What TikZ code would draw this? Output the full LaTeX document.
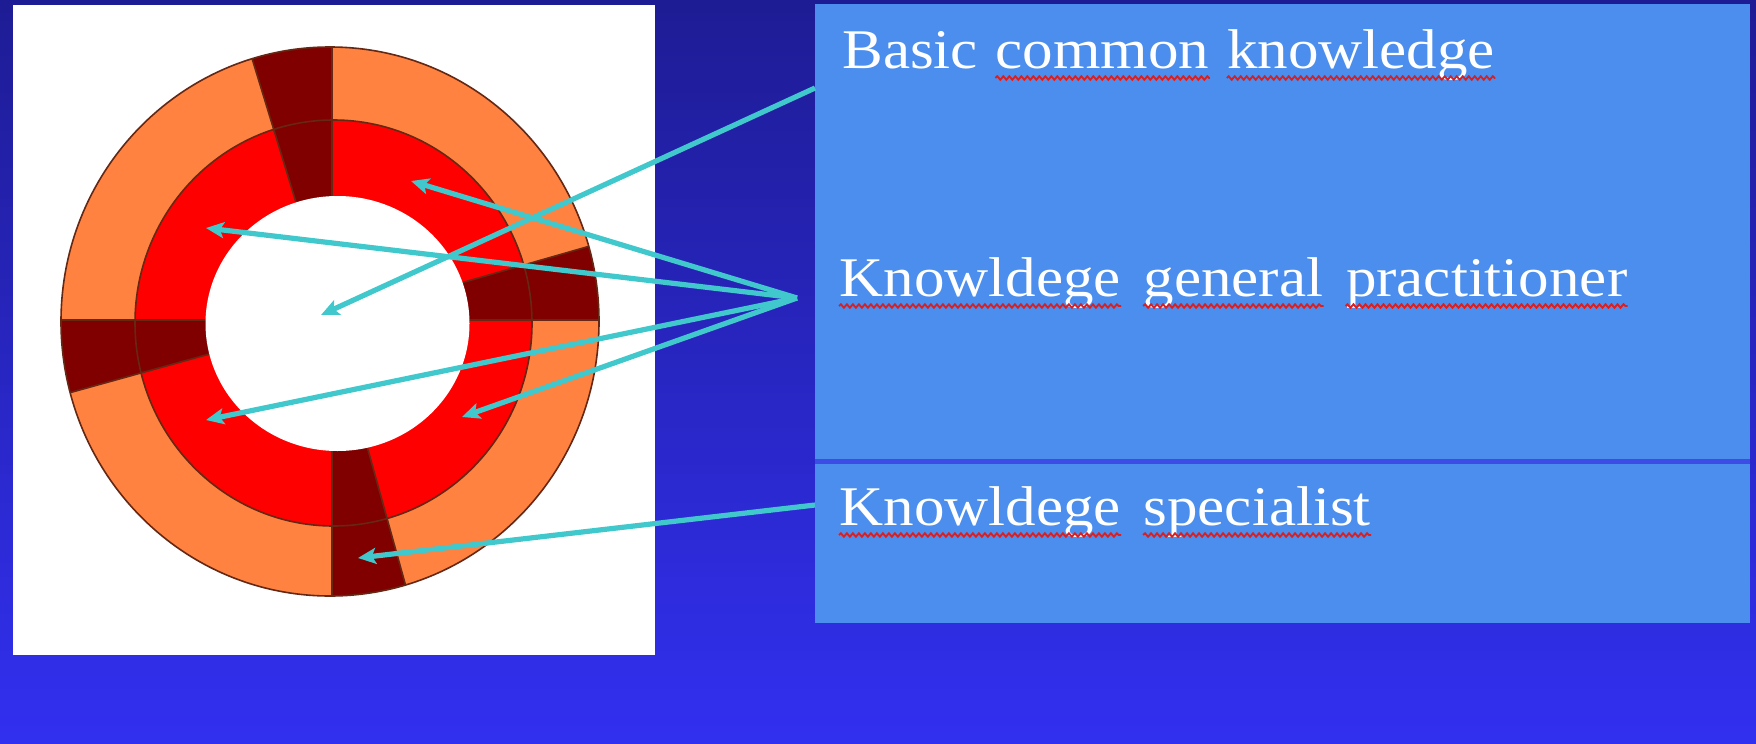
\documentclass[tikz,border=0pt]{standalone}
\usepackage{fontspec}
\newfontfamily\boxfont[FakeStretch=1.09]{Liberation Serif}
\usetikzlibrary{arrows.meta,decorations.pathmorphing,calc}
\definecolor{bgtop}{RGB}{30,28,148}
\definecolor{bgmid}{RGB}{44,42,215}
\definecolor{bgbot}{RGB}{50,48,240}
\definecolor{boxblue}{RGB}{75,142,237}
\definecolor{divider}{RGB}{60,76,228}
\definecolor{teal1}{RGB}{64,200,204}
\definecolor{orange1}{RGB}{255,130,64}
\definecolor{red1}{RGB}{255,0,0}
\definecolor{dark1}{RGB}{128,0,0}
\definecolor{ringline}{RGB}{100,40,20}
\definecolor{squig}{RGB}{220,30,30}
\begin{document}
\begin{tikzpicture}[x=0.5pt,y=-0.5pt,
  txt/.style={font=\boxfont\fontsize{28}{32}\selectfont, text=white, inner sep=0pt, anchor=base west},
  wavy/.style={draw=squig, line width=0.9pt, decorate, decoration={snake, segment length=3pt, amplitude=0.9pt}},
  conn/.style={draw=teal1, line width=2.6pt, -{Stealth[length=9pt,width=8pt,inset=2pt]}},
  ring/.style={draw=ringline, line width=0.8pt}]

\useasboundingbox (0,0) rectangle (1756,744);
\shade[top color=bgtop, middle color=bgmid, bottom color=bgbot] (0,0) rectangle (1756,744);
\fill[white] (13,5) rectangle (655,655);

% rings
\coordinate (C) at (332,320);
\fill[orange1] (330,321.5) ellipse [x radius=269, y radius=274.5];
\fill[red1] (333.5,323) ellipse [x radius=198.5, y radius=203];
\begin{scope}
  \clip (330,321.5) ellipse [x radius=269, y radius=274.5];
  \foreach \a/\b in {0/16, 90/107, 180/195.5, 270/285.5}
    \filldraw[fill=dark1, ring] (C) -- ($(C)+(-\a:600)$) -- ($(C)+(-\b:600)$) -- cycle;
\end{scope}
\draw[ring] (333.5,323) ellipse [x radius=198.5, y radius=203];
\fill[white] (337.5,323.5) ellipse [x radius=132, y radius=127.5];
\draw[ring] (330,321.5) ellipse [x radius=269, y radius=274.5];

% boxes
\fill[boxblue] (815,4) rectangle (1750,623);
\fill[divider] (815,459) rectangle (1750,464);

% texts
\node[txt] (t1a) at (842,68) {Basic};
\node[txt] (t1b) at ($(t1a.base east)+(17,0)$) {common};
\node[txt] (t1c) at ($(t1b.base east)+(17,0)$) {knowledge};
\node[txt] (t2a) at (839,296) {Knowldege};
\node[txt] (t2b) at ($(t2a.base east)+(22,0)$) {general};
\node[txt] (t2c) at ($(t2b.base east)+(22,0)$) {practitioner};
\node[txt] (t3a) at (839,525) {Knowldege};
\node[txt] (t3b) at ($(t3a.base east)+(22,0)$) {specialist};

\foreach \w in {t1b,t1c,t2a,t2b,t2c,t3a,t3b}
  \draw[wavy] ([yshift=-5pt]\w.base west) -- ([yshift=-5pt]\w.base east);

% connectors
\coordinate (sBasic) at (815,88);
\coordinate (eCore) at (321,315);
\coordinate (gp) at (797,298);
\coordinate (g1) at (411,181);
\coordinate (g2) at (206,228);
\coordinate (g3) at (206,420);
\coordinate (g4) at (462,417);
\coordinate (sSpec) at (815,505);
\coordinate (eSpec) at (358,558);

\draw[conn] (sBasic) -- (eCore);
\foreach \t in {g1,g2,g3,g4}
  \draw[conn] (gp) -- (\t);
\draw[conn] (sSpec) -- (eSpec);
\end{tikzpicture}
\end{document}
